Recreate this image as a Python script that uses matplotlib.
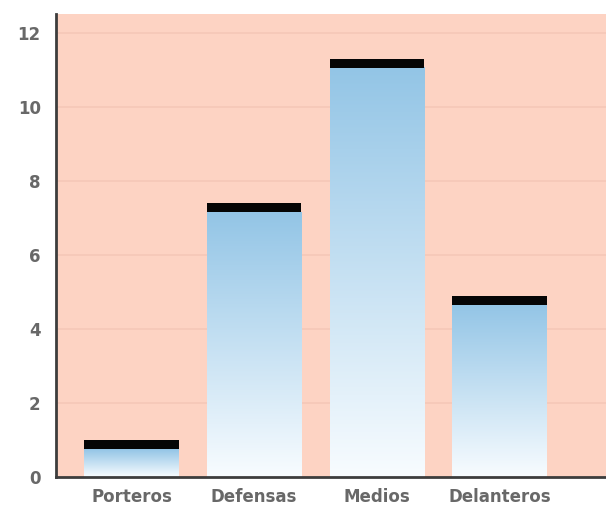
import numpy as np
import matplotlib.pyplot as plt
from matplotlib.colors import LinearSegmentedColormap

categories = ["Porteros", "Defensas", "Medios", "Delanteros"]
values = [1.0, 7.4, 11.3, 4.9]
yticks = [0, 2, 4, 6, 8, 10, 12]

BG = "#fdd3c3"
CAP = 0.25
WIDTH = 0.77

fade = LinearSegmentedColormap.from_list("fade", ["#f8fcff", "#93c5e6"])
grad = np.linspace(0, 1, 256).reshape(-1, 1)

fig = plt.figure(figsize=(6.06, 5.08), dpi=100)
ax = fig.add_axes([0.0924, 0.061, 0.9076, 0.911])
ax.set_facecolor(BG)

for i, v in enumerate(values):
    body = v - CAP
    ax.imshow(grad, cmap=fade, aspect="auto", origin="lower",
              extent=(i - WIDTH / 2, i + WIDTH / 2, 0, body), zorder=2)
    ax.bar(i, CAP, bottom=body, width=WIDTH, color="#050505", zorder=3)

ax.set_xlim(-0.615, 3.868)
ax.set_ylim(0, 12.5)
ax.set_yticks(yticks)
ax.set_xticks(range(len(categories)), categories)
ax.grid(axis="y", color="#f5c8b8", linewidth=1.2, zorder=1)
ax.set_axisbelow(True)

for side in ("top", "right"):
    ax.spines[side].set_visible(False)
for side in ("left", "bottom"):
    ax.spines[side].set_color("#3d3d3d")
    ax.spines[side].set_linewidth(2)

ax.tick_params(length=0)
ax.tick_params(axis="y", pad=11)
ax.tick_params(axis="x", pad=8)
for lab in ax.get_xticklabels() + ax.get_yticklabels():
    lab.set_fontweight("bold")
    lab.set_color("#686868")
    lab.set_fontsize(12)

fig.savefig("out.png", dpi=100)
